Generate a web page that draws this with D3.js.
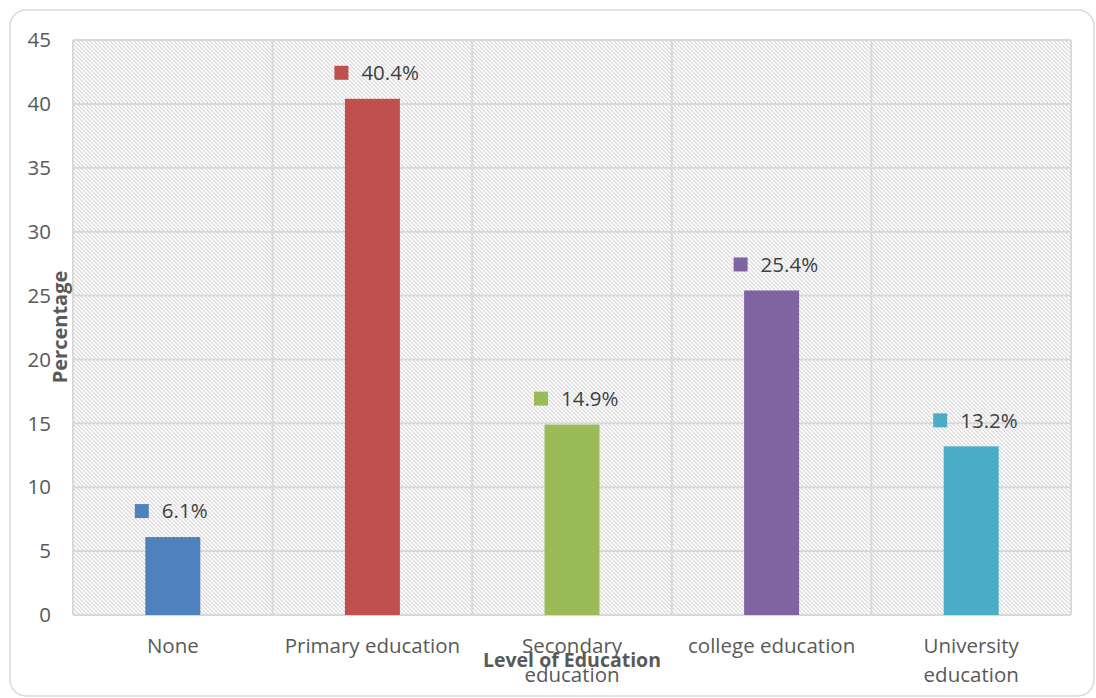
<!DOCTYPE html>
<html>
<head>
<meta charset="utf-8">
<script src="https://cdn.jsdelivr.net/npm/d3@7"></script>
<style>
  body { margin: 0; background: #fff; }
  svg { display: block; font-family: 'Open Sans', sans-serif; }
</style>
</head>
<body>
<svg id="chart" width="1096" height="698"></svg>
<script>
const categories = ['None', 'Primary education', 'Secondary education', 'college education', 'University education']
const catLines = [['None'], ['Primary education'], ['Secondary', 'education'], ['college education'], ['University', 'education']]
const values = [6.1, 40.4, 14.9, 25.4, 13.2]
const colors = ['#4F81BD', '#C0504D', '#9BBB59', '#8064A2', '#4BACC6']
const yTicks = [0, 5, 10, 15, 20, 25, 30, 35, 40, 45]

const svg = d3.select('#chart')
const margin = { left: 73, right: 25, top: 40, bottom: 83 }
const width = 1096 - margin.left - margin.right
const height = 698 - margin.top - margin.bottom

// 斜线底纹
const defs = svg.append('defs')
const pat = defs.append('pattern')
  .attr('id', 'hatch')
  .attr('patternUnits', 'userSpaceOnUse')
  .attr('width', 4)
  .attr('height', 4)
pat.append('path')
  .attr('d', 'M-1,-1 L5,5 M-1,3 L1,5 M3,-1 L5,1')
  .attr('stroke', '#d4d4d4')
  .attr('stroke-width', 1.1)

// 外框
svg.append('rect')
  .attr('x', 10).attr('y', 10)
  .attr('width', 1096 - 12).attr('height', 698 - 12)
  .attr('rx', 16)
  .attr('fill', '#fff')
  .attr('stroke', '#d9d9d9')
  .attr('stroke-width', 1.5)

const g = svg.append('g').attr('transform', `translate(${margin.left},${margin.top})`)

const x = d3.scaleBand().domain(categories).range([0, width]).paddingInner(0).paddingOuter(0)
const y = d3.scaleLinear().domain([0, 45]).range([height, 0])

g.append('rect')
  .attr('width', width).attr('height', height)
  .attr('fill', 'url(#hatch)')

// 网格线
g.selectAll('.hgrid')
  .data(yTicks)
  .enter()
  .append('line')
  .attr('x1', 0).attr('x2', width)
  .attr('y1', d => y(d)).attr('y2', d => y(d))
  .attr('stroke', '#d9d9d9')
  .attr('stroke-width', 2)

const vx = categories.map(c => x(c)).concat([width])
g.selectAll('.vgrid')
  .data(vx)
  .enter()
  .append('line')
  .attr('x1', d => d).attr('x2', d => d)
  .attr('y1', 0).attr('y2', height)
  .attr('stroke', '#d9d9d9')
  .attr('stroke-width', 2)

// y轴刻度
g.selectAll('.ytick')
  .data(yTicks)
  .enter()
  .append('text')
  .attr('x', -22)
  .attr('y', d => y(d))
  .attr('dy', '0.35em')
  .attr('text-anchor', 'end')
  .attr('font-size', 20.5)
  .attr('fill', '#595959')
  .text(d => d)

// 柱子
const barW = 55
g.selectAll('.bar')
  .data(values)
  .enter()
  .append('rect')
  .attr('x', (d, i) => x(categories[i]) + x.bandwidth() / 2 - barW / 2)
  .attr('y', d => y(d))
  .attr('width', barW)
  .attr('height', d => height - y(d))
  .attr('fill', (d, i) => colors[i])

// 数据标签
const lbl = g.selectAll('.lbl')
  .data(values)
  .enter()
  .append('g')
  .attr('transform', (d, i) => `translate(${x(categories[i]) + x.bandwidth() / 2},${y(d) - 26})`)
lbl.append('rect')
  .attr('x', -38).attr('y', -7)
  .attr('width', 14).attr('height', 14)
  .attr('fill', (d, i) => colors[i])
lbl.append('text')
  .attr('x', -11)
  .attr('dy', '0.35em')
  .attr('font-size', 20.5)
  .attr('fill', '#404040')
  .text(d => d.toFixed(1) + '%')

// x轴类别
const xl = g.selectAll('.xlbl')
  .data(catLines)
  .enter()
  .append('text')
  .attr('text-anchor', 'middle')
  .attr('font-size', 20.5)
  .attr('fill', '#595959')
  .attr('transform', (d, i) => `translate(${x(categories[i]) + x.bandwidth() / 2},${height + 38})`)
xl.selectAll('tspan')
  .data(d => d)
  .enter()
  .append('tspan')
  .attr('x', 0)
  .attr('dy', (d, i) => i === 0 ? 0 : 29)
  .text(d => d)

// 轴标题
svg.append('text')
  .attr('transform', 'translate(67,327) rotate(-90)')
  .attr('text-anchor', 'middle')
  .attr('font-size', 20)
  .attr('font-weight', 'bold')
  .attr('fill', '#595959')
  .text('Percentage')

svg.append('text')
  .attr('x', 572).attr('y', 667)
  .attr('text-anchor', 'middle')
  .attr('font-size', 19.5)
  .attr('font-weight', 'bold')
  .attr('fill', '#595959')
  .text('Level of Education')
</script>
</body>
</html>
